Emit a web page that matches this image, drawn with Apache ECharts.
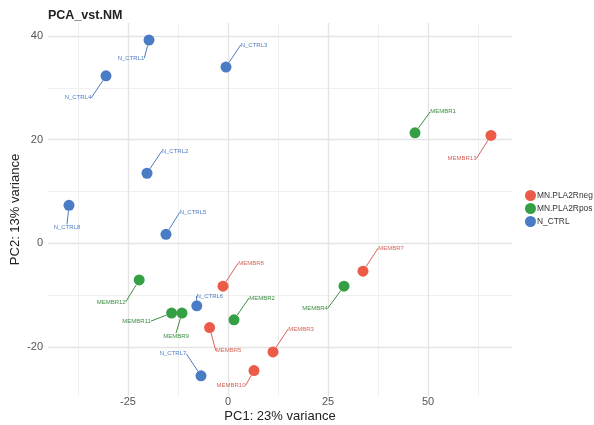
<!DOCTYPE html>
<html><head><meta charset="utf-8">
<script src="https://cdn.jsdelivr.net/npm/echarts@6/dist/echarts.min.js"></script>
<style>html,body{margin:0;padding:0;background:#fff}#c{width:594px;height:425px}</style>
</head><body><div id="c"></div>
<script>
// ---- data ----
const groups = ['MN.PLA2Rneg', 'MN.PLA2Rpos', 'N_CTRL'];
const negNames = ['MEMBR13','MEMBR7','MEMBR8','MEMBR5','MEMBR3','MEMBR10'];
const negX = [65.75, 33.75, -1.25, -4.6, 11.25, 6.5];
const negY = [20.8, -5.4, -8.3, -16.3, -21.0, -24.6];
const posNames = ['MEMBR1','MEMBR12','MEMBR11','MEMBR9','MEMBR2','MEMBR4'];
const posX = [46.75, -22.2, -14.1, -11.5, 1.5, 29.0];
const posY = [21.3, -7.1, -13.5, -13.5, -14.8, -8.3];
const ctrlNames = ['N_CTRL1','N_CTRL3','N_CTRL4','N_CTRL2','N_CTRL8','N_CTRL5','N_CTRL6','N_CTRL7'];
const ctrlX = [-19.75, -0.5, -30.5, -20.25, -39.75, -15.5, -7.8, -6.75];
const ctrlY = [39.2, 34.0, 32.3, 13.5, 7.3, 1.7, -12.1, -25.6];
const xTicks = [-25, 0, 25, 50];
const xMinor = [-37.5, -12.5, 12.5, 37.5, 62.5];
const yTicks = [-20, 0, 20, 40];
const yMinor = [-10, 10, 30];

// ---- label offsets (pixels, style only) ----
const negOff = [[-29,23],[28,-23],[28,-23],[19,23],[28,-23],[-23,15]];
const posOff = [[28,-21],[-28,22],[-35,8],[-6,23],[28,-22],[-29,22]];
const ctrlOff = [[-18,18],[28,-22],[-28,22],[28,-22],[-2,22],[27,-22],[13,-10],[-28,-22]];

const colors = ['#EC5A48', '#34A043', '#4A7CC6'];
const labelColors = ['#D4655B', '#3E8E40', '#4F7CC2'];

function pts(names, xs, ys) { return names.map((n, i) => ({ value: [xs[i], ys[i]], name: n })); }

const chart = echarts.init(document.getElementById('c'), null, { renderer: 'canvas' });
const sets = [[negNames, negX, negY, negOff], [posNames, posX, posY, posOff], [ctrlNames, ctrlX, ctrlY, ctrlOff]];

const series = sets.map((s, gi) => ({
  name: groups[gi],
  type: 'scatter',
  data: pts(s[0], s[1], s[2]),
  symbolSize: 11,
  itemStyle: { color: colors[gi], opacity: 1 },
  z: 5,
  label: {
    show: true, position: 'inside',
    formatter: p => p.name,
    fontSize: 6, fontFamily: 'Liberation Sans, Arial, sans-serif',
    color: labelColors[gi]
  },
  labelLine: { show: true, lineStyle: { color: labelColors[gi], width: 1 } },
  labelLayout: p => ({ dx: s[3][p.dataIndex][0], dy: s[3][p.dataIndex][1] }),
  emphasis: { disabled: true }
}));

// gridlines via markLine on an empty helper series
const gl = (arr, axis, major) => arr.map(v => ({ [axis]: v, lineStyle: { color: major ? '#e4e4e4' : '#f0f0f0', width: major ? 1.4 : 1, type: 'solid' } }));
series.push({
  type: 'scatter', data: [], silent: true, z: 1,
  markLine: {
    silent: true, symbol: ['none', 'none'], label: { show: false },
    animation: false,
    data: [...gl(xMinor, 'xAxis', false), ...gl(yMinor, 'yAxis', false), ...gl(xTicks, 'xAxis', true), ...gl(yTicks, 'yAxis', true)]
  }
});

chart.setOption({
  animation: false,
  backgroundColor: '#fff',
  title: { text: 'PCA_vst.NM', left: 43, top: 4, textStyle: { fontSize: 12.5, fontWeight: 'bold', color: '#222', fontFamily: 'Liberation Sans, Arial, sans-serif' } },
  legend: {
    data: groups, orient: 'vertical', left: 520, top: 185,
    icon: 'circle', itemWidth: 11, itemHeight: 11, itemGap: 2,
    textStyle: { fontSize: 8.4, color: '#333', padding: [0, 0, 0, -4], fontFamily: 'Liberation Sans, Arial, sans-serif' }
  },
  grid: { left: 48, right: 82, top: 23, bottom: 29, containLabel: false, outerBoundsMode: 'none' },
  xAxis: {
    type: 'value', min: -45, max: 71,
    name: 'PC1: 23% variance', nameLocation: 'middle', nameGap: 14, nameMoveOverlap: false,
    nameTextStyle: { fontSize: 13, color: '#222', fontFamily: 'Liberation Sans, Arial, sans-serif' },
    axisLine: { show: false }, axisTick: { show: false, customValues: xTicks },
    splitLine: { show: false },
    axisLabel: { customValues: xTicks, fontSize: 11, color: '#555', margin: 0, fontFamily: 'Liberation Sans, Arial, sans-serif' }
  },
  yAxis: {
    type: 'value', min: -29.5, max: 42.5,
    name: 'PC2: 13% variance', nameLocation: 'middle', nameGap: 26, nameRotate: 90, nameMoveOverlap: false,
    nameTextStyle: { fontSize: 13, color: '#222', fontFamily: 'Liberation Sans, Arial, sans-serif' },
    axisLine: { show: false }, axisTick: { show: false, customValues: yTicks },
    splitLine: { show: false },
    axisLabel: { customValues: yTicks, fontSize: 11, color: '#555', margin: 5, fontFamily: 'Liberation Sans, Arial, sans-serif' }
  },
  series: series
});
</script></body></html>
